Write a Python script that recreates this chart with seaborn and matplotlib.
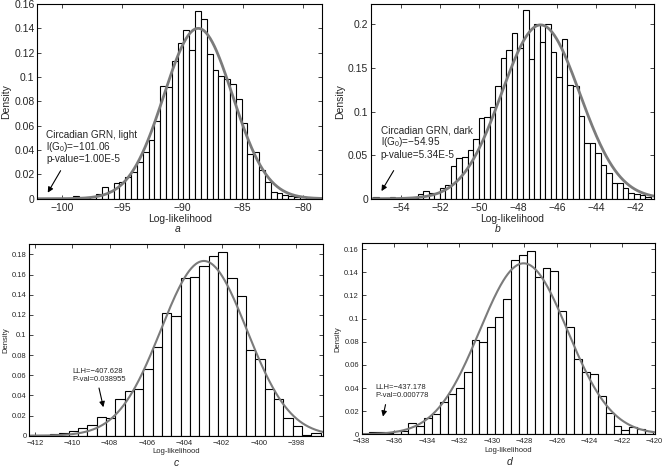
import numpy as np
import pandas as pd
import matplotlib
matplotlib.use("Agg")
import matplotlib.pyplot as plt
from matplotlib.ticker import FuncFormatter
import seaborn as sns

# panel a: circadian GRN, light
a_heights = [0.0025, 0, 0.0005, 0.0015, 0.0035, 0.0098, 0.006, 0.0125, 0.014, 0.018,
             0.022, 0.030, 0.0385, 0.048, 0.064, 0.093, 0.0915, 0.113, 0.128, 0.139,
             0.122, 0.154, 0.148, 0.119, 0.106, 0.101, 0.098, 0.094, 0.082, 0.0625,
             0.037, 0.038, 0.0235, 0.014, 0.0058, 0.005, 0.003, 0.002, 0.0015, 0.001, 0.0005]
a_bins = (-99.1, -79.3)
a_fit = (-88.7, 2.85)

# panel b: circadian GRN, dark
b_heights = [0.0023, 0, 0, 0.0023, 0, 0, 0.0005, 0.001, 0.005, 0.009,
             0.007, 0.007, 0.012, 0.016, 0.038, 0.047, 0.048, 0.056, 0.069, 0.093,
             0.094, 0.105, 0.129, 0.162, 0.171, 0.19, 0.173, 0.217, 0.16, 0.201,
             0.18, 0.201, 0.168, 0.14, 0.183, 0.13, 0.129, 0.095, 0.064, 0.064,
             0.053, 0.039, 0.030, 0.018, 0.0175, 0.012, 0.007, 0.005, 0.004, 0.0023]
b_bins = (-55.42, -41.22)
b_fit = (-46.85, 2.0)

# panel c
c_heights = [0.001, 0.0007, 0.0017, 0.003, 0.005, 0.0076, 0.0106, 0.0185, 0.018, 0.036,
             0.044, 0.046, 0.066, 0.088, 0.122, 0.119, 0.157, 0.158, 0.168, 0.178,
             0.182, 0.157, 0.139, 0.085, 0.076, 0.046, 0.036, 0.018, 0.010, 0.001, 0.003]
c_bins = (-412.19, -396.69)
c_fit = (-402.95, 2.3)

# panel d
d_heights = [0.0023, 0.0023, 0.001, 0.003, 0.003, 0.0095, 0.0075, 0.0138, 0.0176, 0.028,
             0.0346, 0.040, 0.0536, 0.0816, 0.0796, 0.0925, 0.101, 0.117, 0.151, 0.155,
             0.158, 0.136, 0.1435, 0.1415, 0.1067, 0.0925, 0.065, 0.0536, 0.052, 0.0334,
             0.018, 0.0075, 0.0037, 0.0066, 0.0043, 0.003]
d_bins = (-437.55, -420.1)
d_fit = (-428.05, 2.7)

a_text = ["Circadian GRN, light", "l(G$_0$)=\u2212101.06", "p-value=1.00E-5"]
b_text = ["Circadian GRN, dark", "l(G$_0$)=\u221254.95", "p-value=5.34E-5"]
c_text = ["LLH=\u2212407.628", "P-val=0.038955"]
d_text = ["LLH=\u2212437.178", "P-val=0.000778"]

sns.set_style("ticks")
plt.rcParams["font.family"] = ["Liberation Sans", "DejaVu Sans"]
plt.rcParams["mathtext.fontset"] = "custom"
plt.rcParams["mathtext.rm"] = "Liberation Sans"
plt.rcParams["xtick.direction"] = "in"
plt.rcParams["ytick.direction"] = "in"
plt.rcParams["xtick.top"] = True
plt.rcParams["ytick.right"] = True

fig = plt.figure(figsize=(6.65, 4.68), dpi=100)

fmt = FuncFormatter(lambda v, p: "%g" % v)


def panel(rect, heights, bins, fit, xlim, ylim, xticks, yticks, fs, lw_curve):
    ax = fig.add_axes(rect)
    edges = np.linspace(bins[0], bins[1], len(heights) + 1)
    df = pd.DataFrame({"llh": (edges[:-1] + edges[1:]) / 2, "dens": heights})
    sns.histplot(data=df, x="llh", weights="dens", bins=edges.tolist(), stat="count",
                 color="white", edgecolor="black", linewidth=0.8, alpha=1, ax=ax)
    xs = np.linspace(xlim[0], xlim[1], 400)
    mu, sd = fit
    pdf = np.exp(-0.5 * ((xs - mu) / sd) ** 2) / (sd * np.sqrt(2 * np.pi))
    sns.lineplot(x=xs, y=pdf, color="#7b7b7b", linewidth=lw_curve, ax=ax)
    ax.set_xlim(*xlim)
    ax.set_ylim(*ylim)
    ax.set_xticks(xticks)
    ax.set_yticks(yticks)
    ax.yaxis.set_major_formatter(fmt)
    ax.tick_params(labelsize=fs, length=3, width=0.6, pad=2)
    ax.tick_params(axis="x", pad=3)
    for s in ax.spines.values():
        s.set_linewidth(0.8)
        s.set_color("black")
    ax.set_xlabel("Log-likelihood", fontsize=fs, labelpad=1)
    ax.set_ylabel("Density", fontsize=fs, labelpad=2)
    return ax


ax_a = panel([0.0561, 0.5754, 0.4286, 0.4161], a_heights, a_bins, a_fit,
             (-102.05, -78.4), (0, 0.16), [-100, -95, -90, -85, -80],
             np.arange(0, 0.161, 0.02), 7.5, 2.0)
ax_b = panel([0.5574, 0.5754, 0.426, 0.4161], b_heights, b_bins, b_fit,
             (-55.55, -41.05), (0, 0.2235), [-54, -52, -50, -48, -46, -44, -42],
             [0, 0.05, 0.1, 0.15, 0.2], 7.5, 2.0)
ax_c = panel([0.0441, 0.069, 0.4421, 0.409], c_heights, c_bins, c_fit,
             (-412.3, -396.55), (0, 0.19), list(range(-412, -396, 2)),
             np.arange(0, 0.181, 0.02), 5.5, 1.5)
ax_d = panel([0.5439, 0.072, 0.4405, 0.408], d_heights, d_bins, d_fit,
             (-438, -420), (0, 0.165), list(range(-438, -419, 2)),
             np.arange(0, 0.161, 0.02), 5.5, 1.5)

arrow = dict(arrowstyle="-|>", color="black", lw=0.8, mutation_scale=8)

for t, y in zip(a_text, [0.0523, 0.0427, 0.033]):
    ax_a.text(-101.3, y, t, fontsize=7.2, va="center", ha="left")
ax_a.annotate("", xy=(-101.3, 0.003), xytext=(-100.0, 0.025), arrowprops=arrow)

for t, y in zip(b_text, [0.0785, 0.0655, 0.050]):
    ax_b.text(-55.04, y, t, fontsize=7.2, va="center", ha="left")
ax_b.annotate("", xy=(-55.07, 0.006), xytext=(-54.3, 0.035), arrowprops=arrow)

for t, y in zip(c_text, [0.0638, 0.0555]):
    ax_c.text(-410.0, y, t, fontsize=5.5, va="center", ha="left")
ax_c.annotate("", xy=(-408.3, 0.0256), xytext=(-408.6, 0.05), arrowprops=arrow)

for t, y in zip(d_text, [0.0404, 0.0334]):
    ax_d.text(-437.13, y, t, fontsize=5.5, va="center", ha="left")
ax_d.annotate("", xy=(-436.73, 0.013), xytext=(-436.5, 0.028), arrowprops=arrow)

for lab, x, y in [("a", 178, 229), ("b", 498, 229), ("c", 176, 463), ("d", 510, 462)]:
    fig.text(x / 665, 1 - y / 468, lab, fontsize=7.5, style="italic", ha="center", va="center")

fig.savefig("out.png", dpi=100)
